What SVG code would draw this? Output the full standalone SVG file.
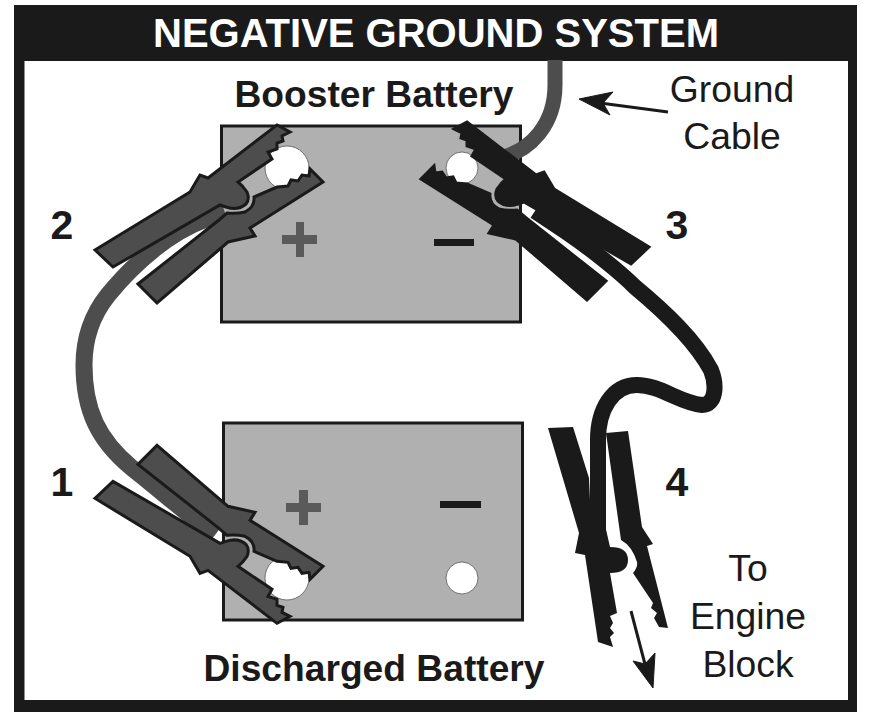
<svg xmlns="http://www.w3.org/2000/svg" xmlns:xlink="http://www.w3.org/1999/xlink" width="871" height="721" viewBox="0 0 871 721">
<style>
text{font-family:"Liberation Sans",Arial,sans-serif;fill:#1a1a1a;text-anchor:middle}
.b{font-weight:bold}
.lab{font-size:37.2px}
.num{font-size:41px;font-weight:bold}
.reg{font-size:37.3px}
.bat{fill:#b0b0b0;stroke:#1a1a1a;stroke-width:3}
.term{fill:#fff;stroke:#555;stroke-width:.8}
.cable{fill:none;stroke-linecap:butt}
.sym{fill:#5a5a5a}
.min{fill:#1a1a1a}
.arrow{fill:#1a1a1a;stroke:#1a1a1a;stroke-width:1}
.ln{stroke:#1a1a1a;stroke-width:3;fill:none}
</style>
<defs>
<g id="clampShape" stroke="#1a1a1a" stroke-width="3" stroke-linejoin="miter">
<path d="M138 284L157 303L228 242L255 236L250 228L323 182L310 169L309 176L302 175L298 181L291 180L288 186L277 187L254 197Q255 207 245 212Q236 214 227 213L219 220Z"/>
<path d="M95 250L113 267L220 205L226 207Q238 211 246 204Q250 199 247 192Q243 186 238 182L272 159L268 152L277 149L277 143L283 141L282 136L290 132L277 125L208 178L200 175L190 192Z"/>
</g>
</defs>
<rect id="frame" x="14" y="5" width="843" height="707" fill="#1a1a1a"/>
<rect x="24.500" y="61" width="823.500" height="639" fill="#fff"/>
<text x="436" y="47" class="b" style="fill:#fff;font-size:40px">NEGATIVE GROUND SYSTEM</text>
<g id="booster-battery">
<rect class="bat" x="221.500" y="126" width="299" height="196"/>
<path class="sym" d="M296 222h8v13h13v9h-13v13h-8v-13h-14v-9h14z"/>
<rect class="min" x="434" y="239" width="40" height="7"/>
<circle class="term" cx="287" cy="168" r="22"/>
<circle class="term" cx="462" cy="168" r="16"/>
<text x="374" y="107" class="b lab">Booster Battery</text>
</g>
<g id="discharged-battery">
<rect class="bat" x="223.500" y="423" width="299" height="197"/>
<path class="sym" d="M299 490h9v13h13v9h-13v13h-9v-13h-13v-9h13z"/>
<rect class="min" x="440" y="501" width="41" height="7"/>
<circle class="term" cx="287" cy="578" r="22"/>
<circle class="term" cx="462" cy="578" r="16"/>
<text x="374" y="681" class="b lab">Discharged Battery</text>
</g>
<g id="connectors">
<path class="cable" stroke="#4d4d4d" stroke-width="17" d="M225 213L206 219C170 232 135 262 108 295C92 315 84 340 84 365C84 410 98 440 132 468C155 486 180 508 215 535"/>
<path class="cable" stroke="#4d4d4d" stroke-width="15" d="M555 60L555 85C555 125 530 150 503 157"/>
<path class="cable" stroke="#1a1a1a" stroke-width="16" d="M535 211L565 231C590 248 620 272 635 287C665 312 695 340 711 370C717 385 716 405 702 405C680 403 660 385 637 385C612 385 598 410 598 440L598 530"/>
<g id="arrow-ground"><path class="ln" d="M600 103L668 112"/><path class="arrow" d="M579 99L613 92L603 103L610 115Z"/></g>
<g id="arrow-engine"><path class="ln" d="M631 611L646 668"/><path class="arrow" d="M653 688L633 661L645 664L655 653Z"/></g>
</g>
<g id="clamp-2"><use href="#clampShape" xlink:href="#clampShape" fill="#4d4d4d"/></g>
<g id="clamp-1"><use href="#clampShape" xlink:href="#clampShape" fill="#4d4d4d" transform="matrix(1 0 0 -1 0 748.33)"/></g>
<g id="clamp-3"><use href="#clampShape" xlink:href="#clampShape" fill="#1a1a1a" transform="matrix(-1 0 0 1 744 -3)"/></g>
<g id="clamp-4" fill="#1a1a1a">
<path d="M548 428L573 427L589 478L590 500L605 525L610 547Q628 547 628 560Q628 573 610 573L617 613L610 616L613 623L610 628L614 633L610 637L613 647L598 642L585 555L575 553L579 533Z"/>
<path d="M606 433L628 431L642 527L653 544L647 546L668 628L659 627L654 618L657 613L651 608L653 603L633 573Q638 567 637 562Q632 546 621 540Z"/>
</g>
<g id="labels">
<text x="62" y="239" class="num">2</text>
<text x="677" y="239" class="num">3</text>
<text x="62" y="496" class="num">1</text>
<text x="677" y="496" class="num">4</text>
<text x="732" y="102" class="reg">Ground</text>
<text x="732" y="149" class="reg">Cable</text>
<text x="748" y="581" class="reg">To</text>
<text x="748" y="629" class="reg">Engine</text>
<text x="748" y="677" class="reg">Block</text>
</g>
</svg>
